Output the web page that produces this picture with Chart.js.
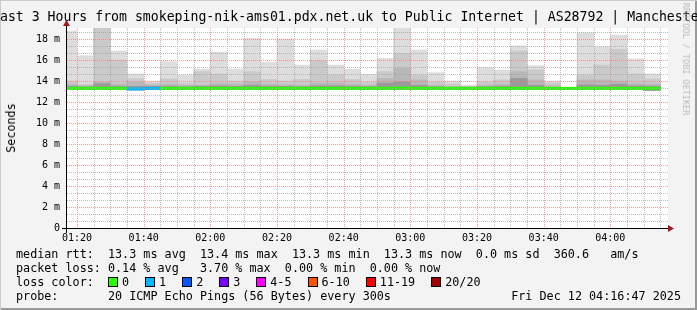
<!DOCTYPE html>
<html>
<head>
<meta charset="utf-8">
<script src="https://cdn.jsdelivr.net/npm/chart.js@4.4.1/dist/chart.umd.min.js"></script>
<style>
  html, body { margin: 0; padding: 0; }
  body { width: 697px; height: 310px; overflow: hidden; background: #f3f3f3; }
  #wrap { position: relative; width: 697px; height: 310px; overflow: hidden;
    font-family: "DejaVu Sans Mono", monospace; color: #000;
    box-shadow: inset 1px 1px 0 #cbcbcb, inset -2px -2px 0 #999; }
  canvas { position: absolute; left: 0; top: 0; }
  .title { position: absolute; left: -8px; top: 9px; font-size: 13.2px; line-height: 16px; white-space: pre; }
  .t { position: absolute; white-space: pre; font-size: 11.75px; line-height: 14px; }
  .ylab { position: absolute; left: 11px; top: 128px; font-size: 11.75px; line-height: 14px;
    transform: translate(-50%, -50%) rotate(-90deg); white-space: pre; }
  .rrd { position: absolute; left: 686px; top: 59px; font-size: 8.5px; line-height: 10px; color: #bbb;
    transform: translate(-50%, -50%) rotate(90deg); white-space: pre; }
  .sq { display: inline-block; width: 8px; height: 8px; border: 1px solid #000; margin-right: 4px; vertical-align: -1px; }
  .lb { margin-right: 16px; }
</style>
</head>
<body>
<div id="wrap">
  <canvas id="c" width="697" height="310"></canvas>
  <div class="title">Last 3 Hours from smokeping-nik-ams01.pdx.net.uk to Public Internet | AS28792 | Manchester</div>
  <div class="ylab">Seconds</div>
  <div class="rrd">RRDTOOL / TOBI OETIKER</div>
  <div class="t" style="left:16px;top:247px">median rtt:  13.3 ms avg  13.4 ms max  13.3 ms min  13.3 ms now  0.0 ms sd  360.6   am/s</div>
  <div class="t" style="left:16px;top:261px">packet loss: 0.14 % avg   3.70 % max  0.00 % min  0.00 % now</div>
  <div class="t" style="left:16px;top:275px">loss color:  <span id="losskey"></span></div>
  <div class="t" style="left:16px;top:289px">probe:       20 ICMP Echo Pings (56 Bytes) every 300s</div>
  <div class="t" style="right:16px;top:289px">Fri Dec 12 04:16:47 2025</div>
</div>
<script>
// 5 minute slots, labelled by their end time
const slots = ["01:20", "01:25", "01:30", "01:35", "01:40", "01:45", "01:50", "01:55",
  "02:00", "02:05", "02:10", "02:15", "02:20", "02:25", "02:30", "02:35", "02:40", "02:45", "02:50", "02:55",
  "03:00", "03:05", "03:10", "03:15", "03:20", "03:25", "03:30", "03:35", "03:40", "03:45", "03:50", "03:55",
  "04:00", "04:05", "04:10", "04:15"];

// smoke levels in ms (outer band = max ping, inner bands darker)
const pingMax = [18.76, 16.41, 19.10, 16.86, 14.67, 14.00, 15.84, 14.57, 15.14, 16.76, 15.14, 18.06,
  15.78, 18.00, 15.52, 16.95, 15.52, 15.11, 14.63, 16.16, 19.10, 16.95, 14.79, 14.00,
  13.60, 15.27, 15.05, 17.33, 15.46, 14.00, 13.40, 18.60, 17.27, 18.38, 16.10, 14.67];
const pingQ2 = [14.00, 13.70, 19.10, 16.00, 14.22, 13.80, 14.19, 13.80, 14.89, 14.67, 14.00, 14.89,
  14.16, 14.00, 14.16, 15.94, 14.57, 14.16, 13.87, 14.89, 16.63, 14.57, 13.90, 13.70,
  13.50, 13.90, 14.10, 16.86, 15.05, 13.80, 13.40, 14.57, 15.52, 17.02, 14.67, 14.20];
const pingQ3 = [13.70, 13.55, 13.93, 13.70, 13.90, 13.60, 13.70, 13.60, 13.60, 13.75, 13.70, 13.93,
  13.70, 13.65, 13.60, 13.80, 13.80, 13.70, 13.60, 14.25, 15.21, 14.10, 13.60, 13.50,
  13.45, 13.60, 13.70, 14.89, 14.10, 13.55, 13.40, 14.10, 14.10, 14.00, 13.75, 13.70];
const pingQ4 = [13.50, 13.45, 13.75, 13.50, 13.50, 13.50, 13.50, 13.45, 13.50, 13.55, 13.50, 13.60,
  13.50, 13.50, 13.45, 13.55, 13.55, 13.50, 13.45, 13.80, 13.93, 13.60, 13.45, 13.40,
  13.40, 13.45, 13.50, 14.25, 13.60, 13.40, 13.35, 13.65, 13.60, 13.70, 13.55, 13.50];
const pingMin = [13.20, 13.20, 13.20, 13.20, 13.15, 13.20, 13.20, 13.20, 13.20, 13.20, 13.20, 13.20,
  13.20, 13.20, 13.20, 13.20, 13.20, 13.20, 13.20, 13.20, 13.20, 13.20, 13.20, 13.20,
  13.20, 13.20, 13.20, 13.20, 13.20, 13.20, 13.20, 13.20, 13.20, 13.20, 13.20, 13.10];
const median = [13.30, 13.30, 13.30, 13.30, 13.25, 13.30, 13.30, 13.30, 13.30, 13.30, 13.30, 13.30,
  13.30, 13.30, 13.30, 13.30, 13.30, 13.30, 13.30, 13.30, 13.32, 13.30, 13.30, 13.30,
  13.30, 13.30, 13.30, 13.30, 13.30, 13.30, 13.30, 13.30, 13.30, 13.30, 13.30, 13.30];
// lost pings per slot (index into loss colours)
const lost = [0, 0, 0, 0, 1, 1, 0, 0, 0, 0, 0, 0, 0, 0, 0, 0, 0, 0, 0, 0, 0, 0, 0, 0,
  0, 0, 0, 0, 0, 0, 0, 0, 0, 0, 0, 0];

const lossLabels = ["0", "1", "2", "3", "4-5", "6-10", "11-19", "20/20"];
const lossColors = ["#26ff00", "#00b8ff", "#0059ff", "#7e00ff", "#ff00ff", "#ff5500", "#ff0000", "#a10000"];

const timeTicks = ["01:20", "01:40", "02:00", "02:20", "02:40", "03:00", "03:20", "03:40", "04:00"];
const valueTicks = [0, 2, 4, 6, 8, 10, 12, 14, 16, 18];

const toMin = s => { const p = s.split(":"); return +p[0] * 60 + +p[1]; };
const mid = slots.map(s => toMin(s) - 2.5);

document.getElementById("losskey").innerHTML = lossLabels.map((l, i) =>
  '<span class="sq" style="background:' + lossColors[i] + '"></span><span class="lb">' + l + '</span>').join("");

function band(lo, hi, color, order) {
  return {
    type: "bar",
    data: mid.map((x, i) => ({ x: x, y: [lo[i], hi[i]] })),
    backgroundColor: color,
    borderWidth: 0,
    grouped: false,
    barPercentage: 1,
    categoryPercentage: 1,
    clip: 0,
    order: order
  };
}

const rrdFrame = {
  id: "rrdFrame",
  beforeDraw(chart) {
    const { ctx, chartArea: a } = chart;
    ctx.save();
    ctx.fillStyle = "#fff";
    ctx.fillRect(a.left, a.top, a.right - a.left + 1, a.bottom - a.top);
    ctx.restore();
  },
  afterDatasetsDraw(chart) {
    const { ctx, chartArea: a } = chart;
    const x = chart.scales.x, y = chart.scales.y;
    ctx.save();
    ctx.lineWidth = 1;
    ctx.setLineDash([1, 1]);
    for (let t = Math.ceil(x.min / 5) * 5; t <= x.max; t += 5) {
      const px = Math.round(x.getPixelForValue(t)) + 0.5;
      ctx.strokeStyle = t % 20 === 0 ? "rgba(240,120,120,0.75)" : "rgba(160,160,160,0.7)";
      ctx.beginPath(); ctx.moveTo(px, a.top); ctx.lineTo(px, a.bottom); ctx.stroke();
    }
    for (let i = 1; i * 2 / 3 <= y.max; i++) {
      const py = Math.round(y.getPixelForValue(i * 2 / 3)) + 0.5;
      ctx.strokeStyle = i % 3 === 0 ? "rgba(240,120,120,0.75)" : "rgba(160,160,160,0.7)";
      ctx.beginPath(); ctx.moveTo(a.left, py); ctx.lineTo(a.right + 1, py); ctx.stroke();
    }
    ctx.restore();
  },
  afterDraw(chart) {
    const { ctx, chartArea: a } = chart;
    ctx.save();
    ctx.strokeStyle = "#000";
    ctx.lineWidth = 1;
    ctx.beginPath();
    ctx.moveTo(a.left - 5, a.bottom + 0.5); ctx.lineTo(a.right + 3, a.bottom + 0.5);
    ctx.moveTo(a.left - 0.5, a.bottom + 5); ctx.lineTo(a.left - 0.5, a.top - 4);
    ctx.stroke();
    ctx.fillStyle = "#9b1b1b";
    ctx.beginPath();
    ctx.moveTo(a.right + 1, a.bottom - 3); ctx.lineTo(a.right + 7, a.bottom + 0.5); ctx.lineTo(a.right + 1, a.bottom + 4);
    ctx.fill();
    ctx.beginPath();
    ctx.moveTo(a.left - 4, a.top - 2); ctx.lineTo(a.left - 0.5, a.top - 8); ctx.lineTo(a.left + 3, a.top - 2);
    ctx.fill();
    ctx.restore();
  }
};

Chart.defaults.font.family = "'DejaVu Sans Mono', monospace";
Chart.defaults.color = "#000";

new Chart(document.getElementById("c"), {
  data: {
    datasets: [
      {
        type: "bar",
        data: mid.map((x, i) => ({ x: x, y: [median[i] - 0.11, median[i] + 0.11] })),
        backgroundColor: lost.map(n => lossColors[n]),
        borderWidth: 0, grouped: false, barPercentage: 1, categoryPercentage: 1, clip: 0, order: 1
      },
      band(pingMin, pingQ4, "#9a9a9a", 2),
      band(pingMin, pingQ3, "#b8b8b8", 3),
      band(pingMin, pingQ2, "#cacaca", 4),
      band(pingMin, pingMax, "#dddddd", 5)
    ]
  },
  options: {
    responsive: false,
    animation: false,
    devicePixelRatio: 1,
    layout: { padding: { top: 28, right: 30, left: 0, bottom: 0 } },
    plugins: { legend: { display: false }, tooltip: { enabled: false }, title: { display: false } },
    scales: {
      x: {
        type: "linear",
        offset: false,
        min: toMin("01:17"),
        max: toMin("04:17"),
        grid: { display: false, drawTicks: false },
        border: { display: false },
        afterFit(s) { s.height = 82; },
        afterBuildTicks(s) { s.ticks = timeTicks.map(t => ({ value: toMin(t) })); },
        ticks: {
          padding: 4,
          maxRotation: 0,
          autoSkip: false,
          font: { size: 10 },
          callback: v => timeTicks.find(t => toMin(t) === v)
        }
      },
      y: {
        min: 0,
        max: 19.05,
        grid: { display: false, drawTicks: false },
        border: { display: false },
        afterFit(s) { s.width = 67; },
        afterBuildTicks(s) { s.ticks = valueTicks.map(v => ({ value: v })); },
        ticks: {
          padding: 7,
          font: { size: 10 },
          callback: v => v === 0 ? "0" : v + " m"
        }
      }
    }
  },
  plugins: [rrdFrame]
});
</script>
</body>
</html>
